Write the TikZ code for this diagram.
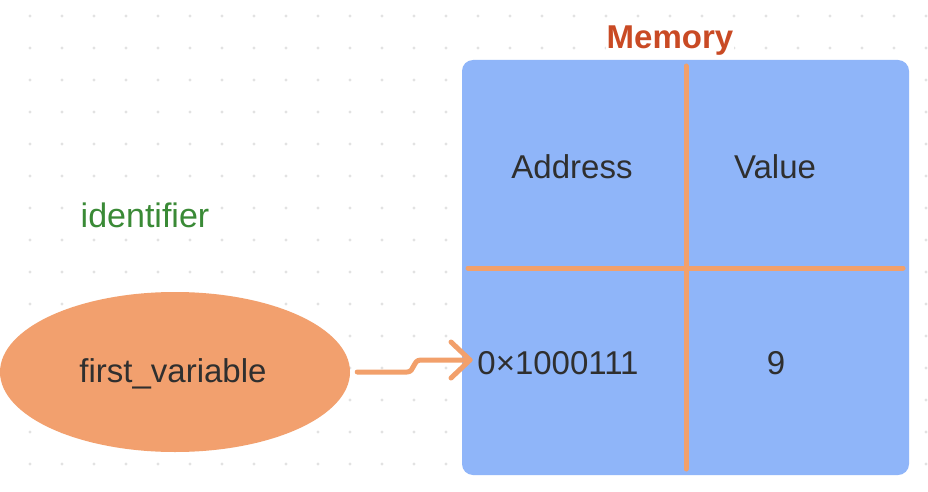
\documentclass[tikz,border=0pt]{standalone}
\usepackage{fontspec}
\setmainfont{Liberation Sans}
\usetikzlibrary{shapes.geometric,arrows.meta}
\definecolor{dotgray}{HTML}{E2E2E2}
\definecolor{boxblue}{HTML}{8FB5F9}
\definecolor{lineorange}{HTML}{F2A06B}
\definecolor{ellorange}{HTML}{F2A06E}
\definecolor{txtdark}{HTML}{2F2F2F}
\definecolor{memred}{HTML}{C94A24}
\definecolor{idgreen}{HTML}{3A8A36}
\tikzset{
  lbl/.style={font=\fontsize{33}{40}\selectfont, text=txtdark, inner sep=0pt},
  orangeline/.style={draw=lineorange, line width=5pt, line cap=round, line join=round},
}
\begin{document}
\begin{tikzpicture}[x=1pt,y=-1pt]
\useasboundingbox (0,0) rectangle (928,492);
\fill[white] (0,0) rectangle (928,492);
% dot grid
\foreach \i in {0,...,29}{
  \foreach \j in {0,...,14}{
    \fill[dotgray] (-2+32*\i,16+32*\j) circle (1.6);
  }
}
% memory box
\fill[boxblue, rounded corners=11pt] (462,60) rectangle (909,475);
\node[font=\bfseries\fontsize{33}{40}\selectfont, text=memred, fill=white, inner sep=1pt] (mem) at (670,41) {Memory};
\node[font=\fontsize{34}{40}\selectfont, text=idgreen, fill=white, inner sep=1pt] (ident) at (145,215) {identifier};
% grid lines
\coordinate (vt) at (686,66);
\coordinate (vb) at (686,469);
\coordinate (hl) at (468,268);
\coordinate (hr) at (903,268);
\draw[orangeline] (vt) -- (vb);
\draw[orangeline] (hl) -- (hr);
% cells
\node[lbl] (addr) at (572,167) {Address};
\node[lbl] (val) at (775,167) {Value};
\node[lbl] (addrval) at (558,363) {0×1000111};
\node[lbl] (nine) at (776,363) {9};
% ellipse
\node[ellipse, fill=ellorange, minimum width=350pt, minimum height=160pt, inner sep=0pt] (var) at (175,372) {};
\node[lbl] (vartxt) at (173,374) {first\_variable};
% arrow
\coordinate (tip) at (470,360);
\draw[orangeline] ([xshift=7pt]var.east) -- (407,372) .. controls (415,372) and (412,360) .. (421,360) -- (tip);
\draw[orangeline] (451,342) -- (tip) -- (451,378);
\end{tikzpicture}
\end{document}
